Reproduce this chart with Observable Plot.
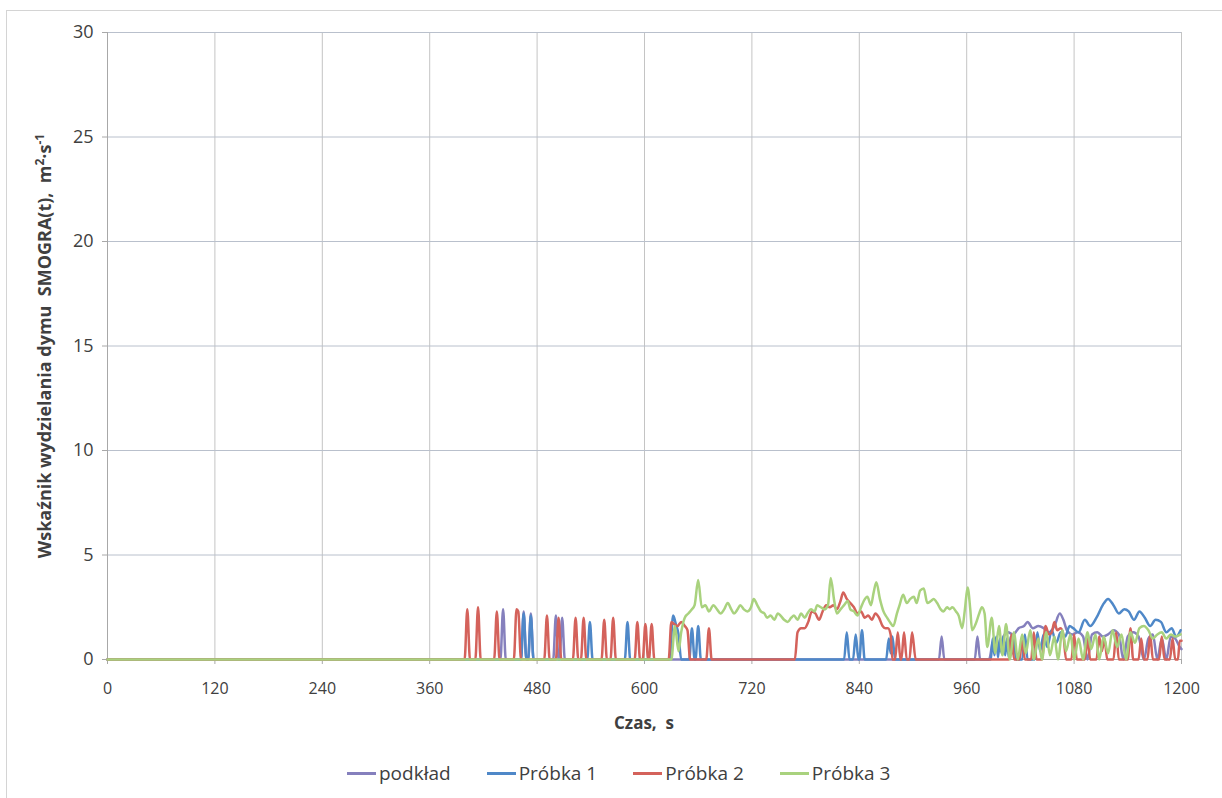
<!DOCTYPE html>
<html><head><meta charset="utf-8">
<script src="https://cdn.jsdelivr.net/npm/d3@7"></script>
<script src="https://cdn.jsdelivr.net/npm/@observablehq/plot@0.6"></script>
<style>
body{margin:0;background:#fff;font-family:"Open Sans",sans-serif;}
#wrap{position:relative;width:1222px;height:798px;overflow:hidden;background:#fff}
#border{position:absolute;left:6px;top:10px;width:1240px;height:820px;border:1px solid #d4d4d4;}
#chart{position:absolute;left:0;top:0}
#legend{position:absolute;top:760px;left:347px;display:flex;gap:36px;font-size:19px;color:#404040;white-space:nowrap}
#legend .it{display:flex;align-items:center}
#legend .sw{display:inline-block;width:29px;height:3px;margin-right:3px}
</style></head>
<body><div id="wrap"><div id="border"></div><div id="chart"></div><div id="legend"></div></div>
<script>
const seriesNames = ["podkład", "Próbka 1", "Próbka 2", "Próbka 3"];
const seriesColors = ["#8580bd", "#4f88c8", "#d4625b", "#a9d27e"];
const xTicks = [0,120,240,360,480,600,720,840,960,1080,1200];
const yTicks = [0,5,10,15,20,25,30];

const podklad = [[0,0],[439,0],[442,2.4],[445,0],[462,0],[465,2.3],[468,0],[470,0],[473,2.2],[476,0],[498,0],[501,2.1],[504,0],[505,0],[508,2.0],[511,0],
[929,0],[932,1.1],[935,0],[969,0],[972,1.1],[975,0],[985,0],[989,0.8],[993,1.0],[997,0.4],[1001,1.1],[1006,1.3],[1012,1.2],[1018,1.5],[1024,1.6],[1028,1.8],[1034,1.5],[1040,1.6],[1046,1.5],[1052,1.3],[1058,1.6],[1064,2.2],[1068,1.9],[1072,1.4],[1078,1.2],[1084,1.3],[1090,1.1],[1095,0],[1100,1.2],[1106,1.3],[1112,1.1],[1118,1.2],[1124,1.4],[1130,1.2],[1135,0],[1140,1.1],[1146,1.3],[1152,1.1],[1158,0],[1163,1.0],[1168,1.2],[1173,0],[1178,1.0],[1183,0],[1188,1.1],[1193,1.0],[1198,0.6],[1200,0.5]];

const probka1 = [[0,0],[462,0],[465,2.2],[468,0],[470,0],[473,2.1],[476,0],[536,0],[539,1.8],[542,0],[578,0],[581,1.8],[584,0],[628,0],[632,2.1],[635,1.7],[638,1.2],[641,0],[650,0],[653,1.5],[656,0],[657,0],[660,1.6],[663,0],
[823,0],[826,1.3],[829,0],[833,0],[836,1.2],[839,0],[840,0],[843,1.4],[846,0],[870,0],[873,1.0],[875,0.3],[877,1.1],[880,0],
[987,0],[989,1.0],[991,0.2],[993,1.1],[995,0.1],[997,1.0],[999,0.3],[1001,1.1],[1003,0.2],[1005,1.0],[1007,0.1],[1009,1.1],[1011,0.3],[1013,1.0],[1015,0],[1022,0],[1025,1.2],[1028,0],[1036,0],[1039,1.3],[1042,0.4],[1046,1.2],[1050,0.6],[1055,1.4],[1060,0.8],[1065,1.3],[1070,1.1],[1075,1.6],[1079,1.5],[1085,1.3],[1092,1.9],[1098,1.6],[1105,2.0],[1112,2.6],[1118,2.9],[1124,2.6],[1130,2.2],[1136,2.4],[1141,2.3],[1147,1.9],[1153,2.3],[1159,2.0],[1165,1.6],[1171,1.9],[1177,1.8],[1183,1.3],[1189,1.5],[1194,1.1],[1199,1.4]];

const probka2 = [[0,0],[399,0],[402,2.4],[405,0],[411,0],[414,2.5],[417,0],[432,0],[435,2.3],[438,0],[454,0],[457,2.4],[459,2.3],[462,0],[488,0],[491,2.1],[494,0],[501,0],[504,2.0],[507,0],[520,0],[523,2.0],[526,0],[529,0],[532,2.0],[535,0],[552,0],[555,1.9],[558,0],[562,0],[565,2.0],[568,0],[589,0],[592,1.8],[595,0],[598,0],[601,1.7],[604,0],[605,0],[608,1.7],[611,0],
[627,0],[630,1.8],[633,1.7],[637,1.6],[641,1.8],[645,1.6],[648,1.4],[651,0],[669,0],[672,1.5],[675,0],
[768,0],[771,1.3],[775,1.5],[779,1.5],[783,1.8],[787,2.3],[791,2.2],[795,1.9],[799,2.3],[803,2.6],[807,2.5],[811,2.6],[815,2.4],[819,2.8],[822,3.2],[826,2.9],[830,2.7],[834,2.5],[838,2.2],[842,2.3],[846,2.0],[850,2.1],[854,1.9],[858,2.2],[862,2.0],[866,1.6],[869,1.5],[872,1.5],[875,1.2],[877,0],[880,0],[883,1.3],[886,0],[887,0],[890,1.3],[893,0],[896,0],[899,1.3],[903,0],
[1007,0],[1010,1.2],[1013,0],[1019,0],[1022,1.0],[1025,0],[1032,0],[1035,1.3],[1038,0],[1044,0],[1048,1.6],[1052,1.2],[1055,1.3],[1058,1.8],[1061,1.4],[1065,1.5],[1068,1.2],[1071,0],[1077,0],[1080,1.2],[1083,0],[1092,0],[1095,1.0],[1098,0],[1105,0],[1108,1.1],[1111,0.4],[1114,1.0],[1117,0],[1124,0],[1127,1.3],[1130,0],[1140,0],[1143,1.5],[1146,0],[1152,0],[1155,1.0],[1158,0],[1162,0],[1165,1.2],[1168,0],[1175,0],[1178,1.1],[1181,0],[1187,0],[1190,1.0],[1193,0],[1196,0],[1198,0.9],[1200,0.9]];

const probka3 = [[0,0],[630,0],[634,1.6],[638,0.4],[641,1.3],[645,2.0],[649,2.2],[653,2.4],[656,2.6],[660,3.8],[664,2.5],[668,2.6],[672,2.3],[677,2.6],[681,2.4],[685,2.2],[689,2.4],[693,2.7],[697,2.4],[700,2.2],[704,2.4],[707,2.6],[711,2.4],[715,2.3],[719,2.5],[722,2.9],[726,2.6],[730,2.3],[734,2.2],[737,2.0],[741,2.1],[745,1.9],[749,2.2],[752,2.1],[756,1.9],[760,1.8],[764,2.0],[767,2.1],[771,1.9],[775,2.2],[779,2.0],[782,2.2],[786,2.4],[790,2.3],[793,2.6],[797,2.5],[801,2.4],[805,2.6],[808,3.9],[812,2.8],[815,2.2],[819,2.4],[823,2.6],[827,2.8],[830,2.4],[834,2.3],[838,2.1],[842,2.5],[845,2.8],[849,3.0],[853,2.6],[856,3.2],[859,3.7],[863,2.9],[867,2.3],[871,2.0],[874,1.8],[878,1.6],[882,2.2],[885,2.6],[889,3.1],[893,2.7],[897,2.9],[901,3.0],[904,2.7],[908,3.3],[912,3.4],[916,2.7],[920,2.8],[923,2.9],[927,2.7],[931,2.4],[934,2.3],[938,2.5],[941,2.4],[944,2.5],[948,2.3],[951,2.1],[955,1.5],[958,2.4],[961,3.45],[964,2.4],[966,1.4],[970,1.7],[974,2.2],[977,2.5],[980,2.2],[983,0.6],
[988,2.0],[992,0.3],[996,1.6],[1000,0.2],[1004,1.7],[1008,0],[1013,1.3],[1017,0],[1022,1.2],[1026,0.3],[1031,1.4],[1035,0],[1040,1.0],[1044,0],[1049,1.3],[1053,0.2],[1058,1.1],[1062,0],[1067,1.4],[1071,0.4],[1076,1.2],[1080,0],[1085,1.0],[1090,0],[1095,1.3],[1099,0.5],[1104,1.2],[1108,0],[1113,1.1],[1118,0.3],[1123,1.4],[1128,0.6],[1133,1.2],[1138,0],[1143,1.3],[1148,0.8],[1153,1.5],[1158,1.6],[1163,1.4],[1168,1.0],[1173,1.2],[1178,1.3],[1183,1.0],[1188,1.2],[1193,1.1],[1199,1.2]];

const allSeries = [podklad, probka1, probka2, probka3];
const rows = allSeries.flatMap((arr, i) => arr.map(([t, v]) => ({t, v, s: seriesNames[i]})));

const chart = Plot.plot({
  width: 1222, height: 740,
  marginLeft: 107, marginRight: 41, marginTop: 32, marginBottom: 81,
  style: {fontFamily: "'Open Sans', sans-serif", fontSize: "16px", color: "#404040", background: "transparent"},
  x: {domain: [0, 1200], label: null},
  y: {domain: [0, 30], label: null},
  color: {domain: seriesNames, range: seriesColors},
  marks: [
    Plot.gridX(xTicks, {stroke: "#c4c4c4", strokeOpacity: 1}),
    Plot.gridY(yTicks, {stroke: "#b9c0cc", strokeOpacity: 1}),
    Plot.ruleX([0], {stroke: "#a8a8a8"}),
    Plot.ruleY([0], {stroke: "#a8a8a8"}),
    Plot.axisX({ticks: xTicks, tickFormat: d => String(d), tickSize: 5, tickPadding: 18, stroke: "#a8a8a8", fontSize: 16, label: null}),
    Plot.axisY({ticks: yTicks, tickFormat: d => String(d), tickSize: 5, tickPadding: 9, stroke: "#a8a8a8", fontSize: 18, label: null}),
    Plot.line(rows, {x: "t", y: "v", z: "s", stroke: "s", curve: "monotone-x", strokeWidth: 2.5})
  ]
});
document.getElementById("chart").appendChild(chart);

const svg = d3.select(chart);
svg.append("text").attr("x", 644).attr("y", 729).attr("text-anchor", "middle")
  .attr("font-weight", "bold").attr("font-size", 17).attr("fill", "#404040").text("Czas,  s");
const yt = svg.append("text").attr("transform", "translate(51,346) rotate(-90)").attr("text-anchor", "middle")
  .attr("font-weight", "bold").attr("font-size", 18).attr("fill", "#404040");
yt.append("tspan").text("Wskaźnik wydzielania dymu  SMOGRA(t),  m");
yt.append("tspan").attr("dy", -7).attr("font-size", 12).text("2");
yt.append("tspan").attr("dy", 7).text("·s");
yt.append("tspan").attr("dy", -7).attr("font-size", 12).text("-1");

const lg = d3.select("#legend");
seriesNames.forEach((n, i) => {
  const it = lg.append("div").attr("class", "it");
  it.append("span").attr("class", "sw").style("background", seriesColors[i]);
  it.append("span").text(n);
});
</script></body></html>
